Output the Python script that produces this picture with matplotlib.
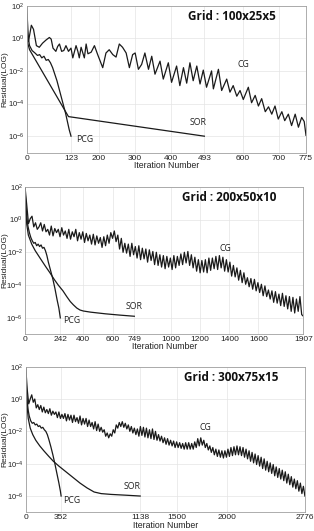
import numpy as np
import matplotlib
matplotlib.use("Agg")
import matplotlib.pyplot as plt
from matplotlib.ticker import FixedLocator, LogFormatterMathtext, NullLocator

plt.rcParams['font.family'] = ['Liberation Sans', 'DejaVu Sans']
plt.rcParams['mathtext.fontset'] = 'custom'
plt.rcParams['mathtext.rm'] = 'Liberation Sans'
plt.rcParams['mathtext.it'] = 'Liberation Sans:italic'
plt.rcParams['mathtext.bf'] = 'Liberation Sans:bold'

# ---------------- data (log10 of residual) ----------------
# Panel 1 : grid 100x25x5
grid1_title = "Grid : 100x25x5"
x1_ticks = [0, 123, 200, 300, 400, 493, 600, 700, 775]
cg1_iter = [0, 5, 13, 19, 27, 35, 44, 54, 63, 68,
            73, 81, 86, 91, 97, 103, 109, 116, 123, 128,
            137, 142, 146, 151, 160, 165, 170, 179, 188, 197,
            204, 211, 220, 229, 239, 248, 257, 266, 276, 285,
            294, 301, 310, 319, 328, 338, 347, 356, 370, 379,
            393, 402, 416, 425, 435, 444, 453, 462, 472, 481,
            490, 499, 513, 518, 532, 541, 555, 564, 573, 583,
            592, 601, 615, 624, 634, 643, 652, 662, 671, 680,
            689, 698, 708, 716, 726, 735, 745, 754, 763, 770,
            775]
cg1_log = [2.0, -0.2, 0.8, 0.55, -0.45, -0.55, -0.3, -0.1, 0.05, -0.05,
           -0.6, -0.8, -0.5, -0.35, -0.8, -0.75, -0.45, -0.8, -0.6, -1.2,
           -0.45, -0.8, -1.2, -0.55, -1.2, -0.35, -0.95, -0.85, -0.45, -1.0,
           -1.4, -1.8, -0.9, -0.7, -1.0, -1.15, -0.35, -0.55, -0.9, -1.8,
           -1.0, -0.9, -1.9, -1.6, -0.9, -1.9, -1.1, -2.2, -1.4, -2.5,
           -1.5, -2.7, -1.7, -2.9, -1.8, -2.75, -1.5, -2.6, -1.7, -2.8,
           -1.95, -3.0, -2.0, -3.1, -1.9, -3.2, -2.5, -3.3, -2.9, -3.55,
           -3.2, -3.75, -3.0, -3.95, -3.5, -4.15, -3.7, -4.5, -4.2, -4.65,
           -4.15, -4.95, -4.5, -5.05, -4.65, -5.35, -4.65, -5.45, -4.85, -5.1,
           -5.95]
pcg1_iter = [0, 3, 8, 15, 23, 30, 36, 42, 48, 54, 60, 66, 72, 78, 84, 90, 96, 102, 108, 114, 118, 123]
pcg1_log = [1.1, 0.2, -0.45, -0.75, -0.9, -1.05, -1.0, -1.2, -1.1, -1.35, -1.3, -1.5, -1.8, -2.2, -2.6, -3.1, -3.6, -4.1, -4.6, -5.2, -5.6, -6.0]
sor1_iter = [0, 3, 8, 116, 493]
sor1_log = [0.9, -0.3, -0.7, -4.8, -6.0]

# Panel 2 : grid 200x50x10
grid2_title = "Grid : 200x50x10"
x2_ticks = [0, 242, 400, 600, 749, 1000, 1200, 1400, 1600, 1907]
cg2_step = 12
cg2_log = [2.0, 0.85, -0.25, 0.05, 0.2, -0.45, -0.2, -0.6, -0.45, -0.2,
           -0.7, -0.3, -0.75, -0.6, -0.95, -0.4, -1.0, -0.55, -0.8, -0.6,
           -1.05, -0.5, -0.95, -0.7, -1.15, -0.6, -1.2, -0.75, -1.05, -0.6,
           -1.3, -0.8, -1.2, -0.75, -1.4, -0.85, -1.3, -0.95, -1.5, -0.9,
           -1.55, -1.0, -1.45, -1.1, -1.7, -1.05, -1.6, -0.95, -1.45, -0.8,
           -1.15, -0.7, -1.35, -0.95, -1.8, -1.15, -2.0, -1.45, -2.05, -1.5,
           -2.25, -1.45, -2.15, -1.65, -2.35, -1.6, -2.45, -1.75, -2.4, -1.8,
           -2.6, -1.85, -2.5, -1.95, -2.75, -2.0, -2.8, -2.15, -2.9, -2.2,
           -3.0, -2.25, -2.9, -2.35, -3.05, -2.2, -2.95, -2.25, -2.8, -2.1,
           -2.75, -2.0, -2.65, -1.95, -2.8, -2.15, -2.95, -2.3, -3.15, -2.45,
           -3.25, -2.5, -3.2, -2.45, -3.25, -2.35, -3.1, -2.35, -3.0, -2.25,
           -3.05, -2.2, -2.95, -2.3, -3.15, -2.45, -3.2, -2.6, -3.45, -2.8,
           -3.5, -2.95, -3.7, -3.1, -3.85, -3.25, -3.95, -3.55, -4.1, -3.6,
           -4.25, -3.65, -4.35, -3.85, -4.45, -3.95, -4.65, -4.05, -4.7, -4.3,
           -4.85, -4.35, -5.05, -4.4, -5.1, -4.55, -5.25, -4.5, -5.3, -4.65,
           -5.45, -4.7, -5.6, -4.75, -5.7, -4.85, -5.6, -4.7, -5.8, -5.9]
pcg2_iter = [0, 6, 12, 20, 30, 40, 50, 60, 70, 80, 90, 100, 110, 120, 130, 140, 150, 160, 175, 190, 205, 220, 232, 242]
pcg2_log = [1.9, 0.9, 0.2, -0.4, -0.8, -1.1, -1.3, -1.45, -1.4, -1.6, -1.5, -1.65, -1.55, -1.75, -1.7, -1.9, -2.2, -2.6, -3.1, -3.6, -4.2, -4.9, -5.4, -6.0]
sor2_iter = [0, 5, 12, 23, 46, 70, 103, 140, 171, 200, 228, 260, 286, 310, 331, 355, 377, 400, 450, 550, 650, 749]
sor2_log = [1.9, 0.6, -0.3, -0.95, -1.5, -1.9, -2.35, -2.85, -3.25, -3.65, -4.0, -4.35, -4.7, -5.0, -5.2, -5.4, -5.52, -5.58, -5.65, -5.75, -5.83, -5.9]

# Panel 3 : grid 300x75x15
grid3_title = "Grid : 300x75x15"
x3_ticks = [0, 352, 1138, 1500, 2000, 2776]
cg3_step = 15
cg3_log = [2.0, 0.6, -0.3, 0.0, 0.26, -0.2, 0.0, -0.55, -0.35, -0.65,
           -0.4, -0.8, -0.5, -0.85, -0.65, -0.9, -0.6, -1.0, -0.75, -0.95,
           -0.8, -1.15, -0.8, -1.2, -0.95, -1.2, -0.9, -1.35, -0.95, -1.3,
           -1.0, -1.45, -1.0, -1.4, -1.15, -1.5, -1.05, -1.6, -1.2, -1.55,
           -1.2, -1.7, -1.3, -1.7, -1.45, -1.85, -1.4, -1.95, -1.55, -2.0,
           -1.75, -2.05, -1.9, -2.3, -2.1, -2.4, -2.15, -2.3, -1.9, -2.1,
           -1.6, -1.8, -1.45, -1.7, -1.4, -1.75, -1.5, -1.85, -1.6, -2.0,
           -1.7, -2.1, -1.8, -2.2, -1.85, -2.3, -1.7, -2.25, -1.75, -2.35,
           -1.8, -2.4, -1.9, -2.45, -1.85, -2.5, -2.0, -2.55, -2.2, -2.6,
           -2.3, -2.7, -2.4, -2.8, -2.45, -2.85, -2.55, -2.9, -2.6, -3.0,
           -2.65, -3.0, -2.7, -3.05, -2.75, -3.1, -2.7, -3.1, -2.7, -3.1,
           -2.75, -3.1, -2.65, -3.0, -2.45, -2.9, -2.4, -2.85, -2.55, -3.0,
           -2.75, -3.15, -2.9, -3.3, -3.0, -3.45, -3.1, -3.55, -3.15, -3.6,
           -3.2, -3.65, -3.2, -3.6, -3.1, -3.55, -3.0, -3.5, -2.95, -3.45,
           -2.9, -3.45, -2.95, -3.5, -3.0, -3.6, -3.1, -3.7, -3.2, -3.85,
           -3.3, -3.95, -3.4, -4.05, -3.5, -4.15, -3.6, -4.3, -3.7, -4.4,
           -3.85, -4.5, -3.95, -4.6, -4.05, -4.75, -4.2, -4.85, -4.3, -4.95,
           -4.4, -5.05, -4.5, -5.2, -4.65, -5.3, -4.8, -5.45, -4.95, -5.55,
           -5.05, -5.7, -5.2, -5.85, -5.4, -6.0]
pcg3_iter = [0, 8, 16, 25, 35, 50, 65, 80, 95, 110, 125, 140, 155, 170, 185, 200, 215, 230, 250, 270, 290, 310, 330, 345, 352]
pcg3_log = [1.8, 0.7, -0.2, -0.7, -1.05, -1.35, -1.5, -1.45, -1.6, -1.55, -1.7, -1.65, -1.8, -1.75, -1.9, -2.0, -2.2, -2.5, -2.95, -3.45, -4.0, -4.6, -5.2, -5.7, -6.0]
sor3_iter = [0, 5, 12, 25, 45, 70, 100, 140, 180, 230, 275, 330, 400, 470, 540, 610, 680, 750, 850, 1000, 1138]
sor3_log = [1.9, 0.8, -0.3, -1.2, -1.8, -2.2, -2.55, -2.9, -3.2, -3.55, -3.85, -4.15, -4.5, -4.85, -5.2, -5.5, -5.75, -5.85, -5.9, -5.95, -6.0]

y_ticks = [1e2, 1e0, 1e-2, 1e-4, 1e-6]

# label positions (iteration, log10)
labels1 = {"CG": (600, -1.62), "SOR": (476, -5.15), "PCG": (162, -6.2)}
labels2 = {"CG": (1370, -1.78), "SOR": (747, -5.29), "PCG": (320, -6.14)}
labels3 = {"CG": (1782, -1.79), "SOR": (1054, -5.38), "PCG": (457, -6.26)}

# ---------------- figure ----------------
W, H = 314, 531
fig = plt.figure(figsize=(W / 100, H / 100), dpi=100)

panels = [
    dict(rect=[26.67, 5.67, 306.0, 152.5], xmax=775, xt=x1_ticks,
         ci=cg1_iter, cl=cg1_log,
         pi=pcg1_iter, pl=pcg1_log, si=sor1_iter, sl=sor1_log, title=grid1_title, lab=labels1,
         xlab_y=165.5),
    dict(rect=[25.0, 186.7, 303.3, 334.3], xmax=1907, xt=x2_ticks,
         ci=np.arange(len(cg2_log)) * cg2_step, cl=cg2_log,
         pi=pcg2_iter, pl=pcg2_log, si=sor2_iter, sl=sor2_log, title=grid2_title, lab=labels2,
         xlab_y=346.5),
    dict(rect=[25.7, 366.7, 305.0, 512.2], xmax=2776, xt=x3_ticks,
         ci=np.arange(len(cg3_log)) * cg3_step, cl=cg3_log,
         pi=pcg3_iter, pl=pcg3_log, si=sor3_iter, sl=sor3_log, title=grid3_title, lab=labels3,
         xlab_y=525.5),
]

for p in panels:
    x0, y0, x1, y1 = p["rect"]
    ax = fig.add_axes([x0 / W, 1 - y1 / H, (x1 - x0) / W, (y1 - y0) / H])
    ax.plot(p["ci"], 10.0 ** np.array(p["cl"]), color='#1a1a1a', lw=0.9)
    ax.plot(p["pi"], 10.0 ** np.array(p["pl"]), color='#1a1a1a', lw=0.9)
    ax.plot(p["si"], 10.0 ** np.array(p["sl"]), color='#1a1a1a', lw=0.9)
    ax.set_yscale('log')
    ax.set_ylim(1e-7, 1e2)
    ax.set_xlim(0, p["xmax"])
    ax.yaxis.set_major_locator(FixedLocator(y_ticks))
    ax.yaxis.set_major_formatter(LogFormatterMathtext())
    ax.yaxis.set_minor_locator(NullLocator())
    ax.set_xticks(p["xt"])
    ax.set_xticklabels([str(t) for t in p["xt"]])
    ax.tick_params(axis='x', length=0, labelsize=6, colors='#222222', pad=1.5)
    ax.tick_params(axis='y', length=0, labelsize=5.5, colors='#222222', pad=1.5)
    ax.grid(True, color='#e4e4e4', lw=0.5)
    for s in ax.spines.values():
        s.set_color('#a0a0a0')
        s.set_linewidth(0.6)
    ax.set_xlabel("Iteration Number", fontsize=6.3, color='#222222', va='center')
    ax.xaxis.set_label_coords(0.5, -(p["xlab_y"] - y1) / (y1 - y0))
    ax.set_ylabel("Residual(LOG)", fontsize=6, color='#222222')
    ax.yaxis.set_label_coords(-(x0 - 4.5) / (x1 - x0), 0.5)
    ax.yaxis.label.set_va('center')
    ax.text(0.735, 0.925, p["title"], transform=ax.transAxes, ha='center', va='center',
            fontsize=8.5, fontweight='bold', family=['Open Sans', 'DejaVu Sans'], color='#111111')
    for name, (ix, lv) in p["lab"].items():
        ax.text(ix, 10.0 ** lv, name, ha='center', va='center', fontsize=6.3,
                color='#222222', family=['Open Sans', 'DejaVu Sans'])

fig.savefig("out.png", dpi=100)
